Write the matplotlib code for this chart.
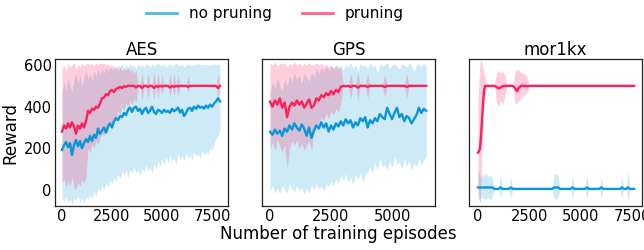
import numpy as np
import matplotlib
matplotlib.use("Agg")
import matplotlib.pyplot as plt
from matplotlib.lines import Line2D

# ---------------- data ----------------
titles = ["AES", "GPS", "mor1kx"]
series_names = ["no pruning", "pruning"]

aes_ep = list(range(0, 8000, 100))
aes_blue_mean = [192, 215, 230, 205, 225, 168, 215, 240, 210, 235, 200, 225, 245, 230, 260, 235, 265, 250, 295, 270,
                 285, 300, 275, 305, 320, 300, 330, 345, 335, 355, 350, 370, 360, 385, 395, 375, 395, 400, 380, 390,
                 365, 385, 395, 370, 380, 400, 375, 365, 385, 380, 370, 385, 375, 380, 370, 390, 378, 385, 395, 372,
                 385, 355, 370, 390, 395, 380, 400, 390, 405, 395, 400, 390, 405, 395, 410, 400, 415, 425, 440, 425]
aes_blue_low = [-40, -55, -35, -60, -45, -70, -40, -50, -30, -55, -40, -60, -35, -45, -25, -40, -10, -30, 10, -5,
                20, 0, 35, 15, 45, 30, 60, 40, 75, 55, 90, 70, 95, 60, 100, 80, 110, 85, 95, 70,
                105, 85, 120, 90, 110, 80, 125, 100, 140, 110, 150, 120, 160, 130, 170, 140, 155, 125, 175, 145,
                165, 140, 180, 150, 170, 145, 185, 160, 175, 150, 190, 165, 185, 170, 200, 190, 220, 250, 260, 290]
aes_blue_high = [470, 520, 480, 540, 500, 470, 530, 560, 510, 550, 500, 540, 570, 530, 560, 520, 575, 545, 580, 555,
                 585, 560, 590, 570, 595, 575, 600, 585, 600, 590, 605, 585, 600, 590, 605, 595, 600, 580, 605, 595,
                 600, 590, 605, 600, 590, 605, 595, 600, 608, 595, 600, 605, 590, 600, 605, 595, 600, 608, 600, 595,
                 605, 590, 600, 605, 600, 595, 605, 600, 608, 600, 605, 600, 605, 598, 605, 600, 608, 600, 605, 600]
aes_red_mean = [280, 310, 295, 320, 300, 325, 305, 270, 310, 295, 320, 300, 330, 380, 370, 390, 385, 400, 395, 415,
                440, 445, 460, 455, 475, 480, 470, 485, 490, 495, 490, 498, 495, 500, 500, 500, 500, 492, 500, 500,
                490, 500, 500, 495, 500, 500, 490, 500, 495, 500, 497, 500, 500, 500, 492, 500, 495, 500, 497, 500,
                500, 500, 500, 495, 500, 500, 500, 500, 500, 500, 500, 500, 500, 500, 500, 500, 500, 500, 490, 500]
aes_red_low = [30, 50, 15, 40, 20, 60, 10, 0, 35, 20, 50, 30, 60, 200, 180, 220, 200, 240, 215, 250,
               270, 260, 300, 280, 330, 310, 350, 330, 380, 360, 400, 380, 420, 390, 430, 410, 440, 420, 500, 500,
               430, 500, 500, 440, 500, 500, 430, 500, 440, 500, 460, 500, 500, 500, 440, 500, 450, 500, 450, 500,
               500, 500, 500, 470, 500, 500, 500, 500, 500, 500, 500, 500, 500, 500, 500, 500, 500, 500, 440, 500]
aes_red_high = [580, 600, 570, 610, 590, 600, 610, 580, 605, 590, 610, 595, 605, 610, 600, 610, 595, 610, 600, 610,
                605, 610, 600, 605, 595, 600, 580, 595, 575, 590, 570, 585, 575, 590, 570, 580, 560, 575, 500, 500,
                565, 500, 500, 560, 500, 500, 565, 500, 560, 500, 555, 500, 500, 500, 560, 500, 560, 500, 555, 500,
                500, 500, 500, 550, 500, 500, 500, 500, 500, 500, 500, 500, 500, 500, 500, 500, 500, 500, 560, 500]

gps_ep = list(range(0, 6500, 100))
gps_blue_mean = [280, 265, 290, 270, 285, 260, 295, 280, 310, 290, 320, 300, 285, 315, 295, 260, 300, 250, 285, 310,
                 295, 325, 300, 320, 280, 310, 290, 320, 305, 330, 310, 340, 320, 335, 300, 325, 310, 345, 330, 350,
                 300, 335, 320, 345, 330, 365, 350, 340, 395, 365, 340, 370, 395, 350, 365, 330, 355, 345, 320, 340,
                 360, 395, 370, 390, 380]
gps_blue_low = [-10, 20, -15, 10, -20, 25, 0, -15, 30, 5, -10, 20, -5, 15, -20, 10, -15, 25, 0, 30,
                5, 20, -5, 30, 15, 40, 20, 55, 30, 70, 45, 80, 35, 60, 25, 75, 50, 85, 40, 70,
                90, 110, 80, 130, 95, 150, 110, 125, 95, 140, 105, 160, 120, 135, 100, 150, 115, 140, 95, 130,
                110, 155, 120, 145, 160]
gps_blue_high = [470, 520, 490, 540, 500, 480, 530, 500, 545, 520, 560, 530, 550, 510, 560, 540, 520, 565, 545, 580,
                 560, 585, 570, 595, 575, 600, 580, 605, 590, 600, 575, 600, 590, 610, 585, 600, 570, 605, 595, 600,
                 585, 610, 590, 600, 560, 605, 595, 600, 610, 585, 600, 605, 595, 580, 605, 600, 590, 610, 600, 565,
                 600, 605, 590, 610, 600]
gps_red_mean = [424, 400, 430, 410, 440, 395, 420, 350, 400, 420, 405, 430, 410, 425, 395, 415, 435, 395, 405, 440,
                430, 455, 445, 465, 455, 475, 460, 480, 470, 495, 500, 498, 500, 495, 500, 500, 492, 500, 500, 500,
                495, 500, 500, 500, 500, 500, 500, 495, 500, 500, 500, 500, 500, 500, 500, 500, 495, 500, 500, 500,
                500, 500, 500, 500, 500]
gps_red_low = [200, 230, 190, 240, 210, 180, 220, 105, 200, 235, 215, 240, 200, 225, 190, 215, 240, 185, 300, 320,
               310, 350, 330, 370, 340, 380, 360, 390, 370, 420, 500, 500, 500, 440, 500, 500, 430, 500, 500, 500,
               440, 500, 500, 500, 500, 500, 500, 445, 500, 500, 500, 500, 500, 500, 500, 500, 440, 500, 500, 500,
               500, 500, 500, 500, 500]
gps_red_high = [610, 600, 615, 595, 610, 605, 612, 590, 608, 600, 615, 600, 610, 595, 608, 600, 612, 598, 605, 610,
                600, 608, 595, 605, 590, 600, 585, 598, 580, 590, 500, 500, 500, 560, 500, 500, 565, 500, 500, 500,
                560, 500, 500, 500, 500, 500, 500, 555, 500, 500, 500, 500, 500, 500, 500, 500, 560, 500, 500, 500,
                500, 500, 500, 500, 500]

mor_ep = [0, 50, 100, 150, 200, 250, 300, 350] + list(range(400, 7700, 100))
n_mor = len(mor_ep)
mor_blue_mean = [5] * n_mor
mor_blue_low = [5] * n_mor
mor_blue_high = [5] * n_mor
mor_blue_spikes = {0: (-50, 80), 50: (-40, 90), 100: (-60, 60), 150: (-30, 70), 200: (-45, 75), 250: (-35, 60),
                   300: (-50, 85), 350: (-40, 70), 400: (-45, 80), 500: (-35, 65), 600: (-50, 75), 700: (-30, 60),
                   1100: (-40, 70), 1600: (-40, 60), 3700: (-40, 75), 3800: (-45, 80), 3900: (-35, 70),
                   4600: (-40, 65), 5300: (-40, 70), 6000: (-40, 65), 7000: (-35, 60), 7300: (-50, 85)}
for k, (lo, hi) in mor_blue_spikes.items():
    i = mor_ep.index(k)
    mor_blue_low[i] = lo
    mor_blue_high[i] = hi
    mor_blue_mean[i] = 12
mor_red_mean = [180, 185, 200, 260, 340, 420, 480, 500] + [500] * (n_mor - 8)
mor_red_low = [50, -40, -60, 40, 200, 350, 420, 450] + [500] * (n_mor - 8)
mor_red_high = [420, 520, 610, 625, 610, 580, 560, 540] + [500] * (n_mor - 8)
mor_red_dips = {900: (495, 420, 560), 1000: (488, 400, 575), 1100: (492, 430, 560), 1200: (498, 410, 570),
                1300: (500, 440, 555), 1800: (490, 410, 570), 1900: (475, 420, 580), 2000: (492, 430, 575),
                2100: (500, 440, 565), 2200: (500, 450, 560), 2300: (500, 460, 555), 2400: (498, 470, 540)}
for k, (m, lo, hi) in mor_red_dips.items():
    i = mor_ep.index(k)
    mor_red_mean[i] = m
    mor_red_low[i] = lo
    mor_red_high[i] = hi

panels = [
    (aes_ep, aes_blue_mean, aes_blue_low, aes_blue_high, aes_red_mean, aes_red_low, aes_red_high),
    (gps_ep, gps_blue_mean, gps_blue_low, gps_blue_high, gps_red_mean, gps_red_low, gps_red_high),
    (mor_ep, mor_blue_mean, mor_blue_low, mor_blue_high, mor_red_mean, mor_red_low, mor_red_high),
]
xlims = [(-350, 8300), (-328, 6760), (-435, 7980)]

# ---------------- style ----------------
BLUE = "#0b96d9"
RED = "#ff1f5b"

fig = plt.figure(figsize=(6.44, 2.5), dpi=100)
lefts = [55 / 644, 262 / 644, 469 / 644]
w = 173 / 644
bottom = 1 - 206 / 250
h = 147 / 250
for i, (ep, bm, bl, bh, rm, rl, rh) in enumerate(panels):
    ax = fig.add_axes([lefts[i], bottom, w, h])
    ep = np.asarray(ep)
    ax.fill_between(ep, bl, bh, color=BLUE, alpha=0.2, linewidth=0)
    ax.fill_between(ep, rl, rh, color=RED, alpha=0.22, linewidth=0)
    ax.plot(ep, bm, color=BLUE, lw=1.7)
    ax.plot(ep, rm, color=RED, lw=1.7)
    ax.set_ylim(-77, 629)
    ax.set_xlim(*xlims[i])
    ax.set_title(titles[i], fontsize=12, pad=2)
    ax.set_xticks([0, 2500, 5000, 7500] if i != 1 else [0, 2500, 5000])
    ax.tick_params(labelsize=10.5, length=0, pad=2.5)
    ax.set_yticks([0, 200, 400, 600])
    if i == 0:
        ax.set_ylabel("Reward", fontsize=12, labelpad=3)
    else:
        ax.set_yticklabels([])
    for s in ax.spines.values():
        s.set_linewidth(0.9)
        s.set_color("#222222")

fig.text(0.525, 0.064, "Number of training episodes", ha="center", va="center", fontsize=12)

handles = [Line2D([], [], color=BLUE, lw=2, alpha=0.7), Line2D([], [], color=RED, lw=2, alpha=0.7)]
fig.legend(handles, series_names, loc="upper center", bbox_to_anchor=(0.427, 1.03), ncol=2,
           frameon=False, fontsize=11, handlelength=2.0, columnspacing=2.0)

fig.savefig("out.png", dpi=100)
